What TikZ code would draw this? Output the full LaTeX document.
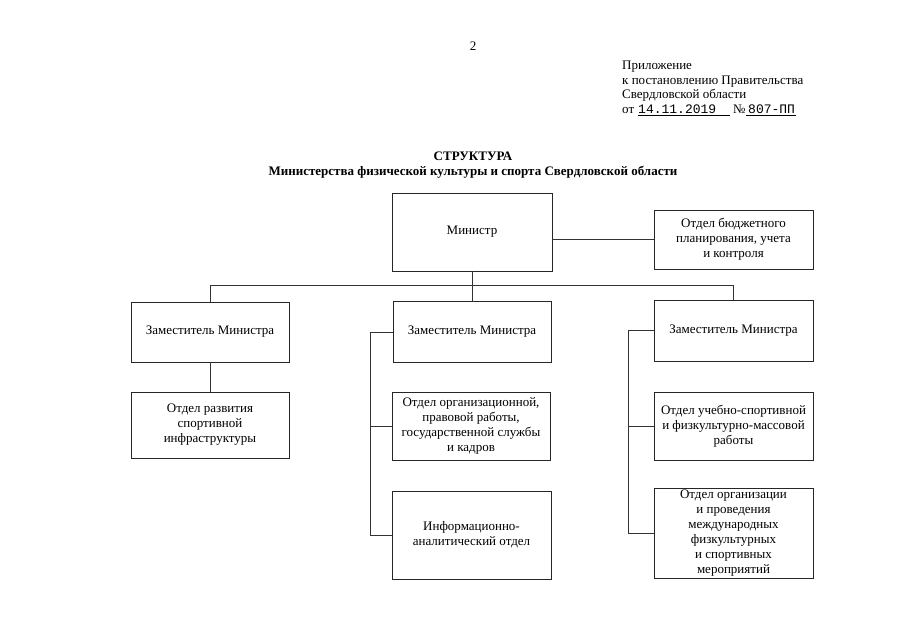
\documentclass[tikz,border=0pt]{standalone}
\usepackage{fontspec}
\setmainfont{Liberation Serif}
\setmonofont{Liberation Mono}
\begin{document}
\begin{tikzpicture}[x=1pt,y=-1pt,
  box/.style={draw=black!85, line width=0.9pt, align=center, inner sep=2pt,
    font=\fontsize{13}{15}\selectfont},
  conn/.style={draw=black!80, line width=0.7pt},
  txt/.style={inner sep=0pt, font=\fontsize{13}{14.5}\selectfont}]
\useasboundingbox (0,0) rectangle (905,640);
\fill[white] (0,0) rectangle (905,640);

% header
\node[txt, anchor=base] (pg) at (473,50) {2};
\node[txt, anchor=base west] (pr1) at (622,69) {Приложение};
\node[txt, anchor=base west] (pr2) at (622,84) {к постановлению Правительства};
\node[txt, anchor=base west] (pr3) at (622,98) {Свердловской области};
\node[txt, anchor=base west] (ot) at (622,113) {от};
\node[txt, anchor=base west, font=\ttfamily\fontsize{13}{14.5}\selectfont] (date) at (638,113) {14.11.2019};
\node[txt, anchor=base west] (no) at (733,113) {№};
\node[txt, anchor=base west, font=\ttfamily\fontsize{13}{14.5}\selectfont] (num) at (748,113) {807-ПП};
\coordinate (u1a) at (638,115.5);
\coordinate (u1b) at (730,115.5);
\coordinate (u2a) at (746,115.5);
\coordinate (u2b) at (796,115.5);
\draw[line width=0.6pt] (u1a) -- (u1b);
\draw[line width=0.6pt] (u2a) -- (u2b);

% title
\node[txt, anchor=base, font=\bfseries\fontsize{13}{15}\selectfont] (t1) at (473,160) {СТРУКТУРА};
\node[txt, anchor=base, font=\bfseries\fontsize{13}{15}\selectfont] (t2) at (473,175) {Министерства физической культуры и спорта Свердловской области};

% boxes
\node[box, minimum width=160pt, minimum height=78pt] (min) at (472,232) {Министр};
\node[box, minimum width=159pt, minimum height=59pt] (bud) at (733.5,239.5) {Отдел бюджетного\\планирования, учета\\и контроля};
\node[box, minimum width=158pt, minimum height=60pt] (z1) at (210,332) {Заместитель Министра};
\node[box, minimum width=158pt, minimum height=61pt] (z2) at (472,332) {Заместитель Министра};
\node[box, minimum width=159pt, minimum height=61pt] (z3) at (733.5,330.5) {Заместитель Министра};
\node[box, minimum width=158pt, minimum height=66pt] (r1) at (210,425) {Отдел развития\\спортивной\\инфраструктуры};
\node[box, minimum width=158pt, minimum height=68pt] (o1) at (471,426) {Отдел организационной,\\правовой работы,\\государственной службы\\и кадров};
\node[box, minimum width=159pt, minimum height=88pt] (i1) at (471.5,535) {Информационно-\\аналитический отдел};
\node[box, minimum width=159pt, minimum height=68pt] (s1) at (733.5,426) {Отдел учебно-спортивной\\и физкультурно-массовой\\работы};
\node[box, minimum width=159pt, minimum height=89pt] (m1) at (733.5,533.5) {Отдел организации\\и проведения\\международных\\физкультурных\\и спортивных\\мероприятий};

% connectors
\coordinate (j) at (472,285);
\coordinate (b2) at (370,0);
\coordinate (b3) at (628,0);
\draw[conn] (bud.west) -- (bud.west -| min.east);
\draw[conn] (min.south) -- (z2.north);
\draw[conn] (z1.north) -- (z1.north |- j) -- (z3.north |- j) -- (z3.north);
\draw[conn] (z1.south) -- (r1.north);
\draw[conn] (z2.west) -- (z2.west -| b2) -- (i1.west -| b2) -- (i1.west);
\draw[conn] (o1.west) -- (o1.west -| b2);
\draw[conn] (z3.west) -- (z3.west -| b3) -- (m1.west -| b3) -- (m1.west);
\draw[conn] (s1.west) -- (s1.west -| b3);
\end{tikzpicture}
\end{document}
